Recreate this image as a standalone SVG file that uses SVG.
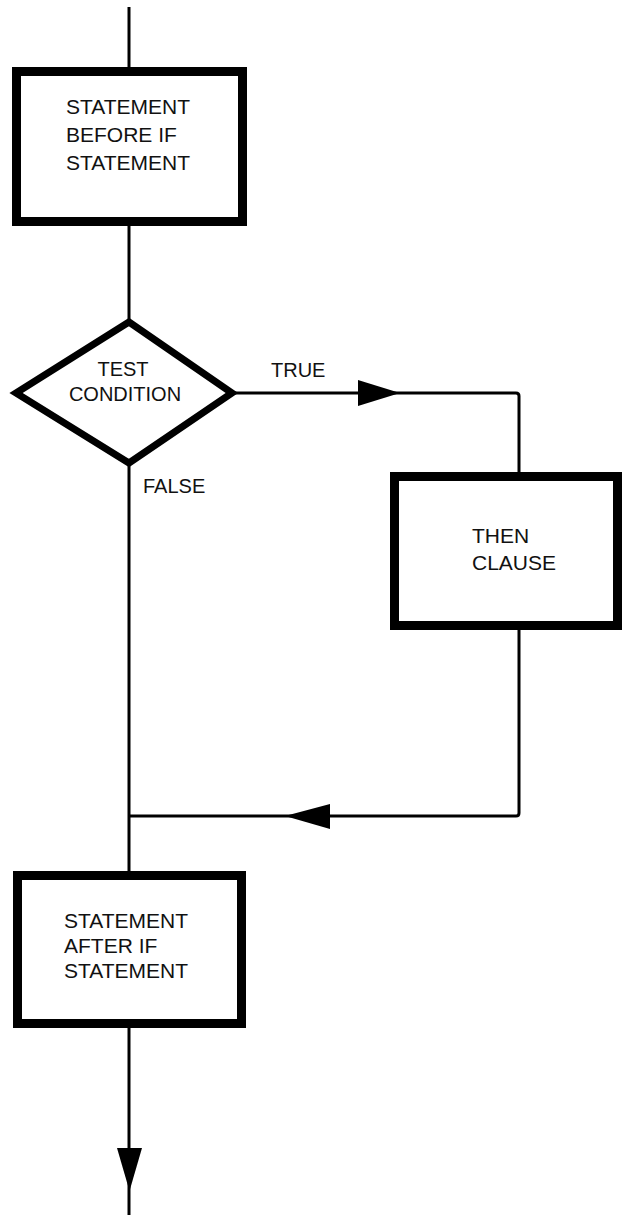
<svg xmlns="http://www.w3.org/2000/svg" width="623" height="1215" viewBox="0 0 623 1215">
<style>
.box{fill:#fff;stroke:#000;stroke-width:9}
.dia{fill:#fff;stroke:#000;stroke-width:7;stroke-linejoin:miter}
.ln{fill:none;stroke:#000;stroke-width:3}
.ah{fill:#000;stroke:none}
text{font-family:"Liberation Sans",Arial,Helvetica,sans-serif;font-size:21px;fill:#111}
.sm{font-size:20px}
</style>
<rect width="623" height="1215" fill="#fff"/>
<g id="connectors">
<line class="ln" x1="129" y1="7" x2="129" y2="70"/>
<line class="ln" x1="129" y1="222" x2="129" y2="322"/>
<line class="ln" x1="129" y1="463" x2="129" y2="875"/>
<path class="ln" d="M232 393 H516 Q519 393 519 396 V476"/>
<polygon class="ah" points="358,380 358,406 400,393"/>
<path class="ln" d="M519 626 V813 Q519 816 516 816 H129"/>
<polygon class="ah" points="330,804 330,829 285,816"/>
<line class="ln" x1="129" y1="1024" x2="129" y2="1215"/>
<polygon class="ah" points="117,1148 142,1148 129.5,1191"/>
<text class="sm" x="271" y="377">TRUE</text>
<text class="sm" x="143" y="493">FALSE</text>
</g>
<g id="before">
<rect class="box" x="16.5" y="71.5" width="226" height="150"/>
<text x="66" y="114">STATEMENT</text>
<text x="66" y="142">BEFORE IF</text>
<text x="66" y="170">STATEMENT</text>
</g>
<g id="test">
<polygon class="dia" points="16,393 129,322 232,393 129,463"/>
<text class="sm" x="123" y="376" text-anchor="middle">TEST</text>
<text class="sm" x="125" y="401" text-anchor="middle">CONDITION</text>
</g>
<g id="then">
<rect class="box" x="394.5" y="476.5" width="223" height="149"/>
<text x="472" y="543">THEN</text>
<text x="472" y="570">CLAUSE</text>
</g>
<g id="after">
<rect class="box" x="17.5" y="875.5" width="224" height="148"/>
<text x="64" y="928">STATEMENT</text>
<text x="64" y="953">AFTER IF</text>
<text x="64" y="978">STATEMENT</text>
</g>
</svg>
